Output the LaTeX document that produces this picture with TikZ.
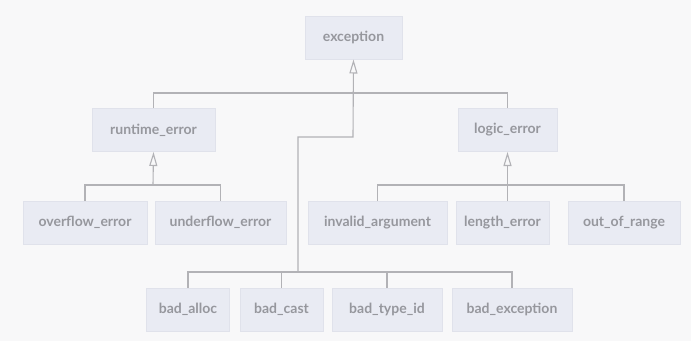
\documentclass[tikz,border=0pt]{standalone}
\usepackage{fontspec}
\setmainfont{Lato}
\usetikzlibrary{arrows.meta}
\definecolor{bgcol}{HTML}{F8F8F9}
\definecolor{boxcol}{HTML}{E9EBF3}
\definecolor{edgecol}{HTML}{E0E2EB}
\definecolor{txtcol}{HTML}{96979D}
\definecolor{linecol}{HTML}{B2B2B6}
\tikzset{
  cls/.style={draw=edgecol, fill=boxcol, text=txtcol, font=\fontsize{14}{16}\selectfont\bfseries,
    inner xsep=0pt, minimum height=43pt, line width=1pt},
  link/.style={draw=linecol, line width=1.1pt},
  inherit/.style={link, -{Triangle[open, length=14pt, width=8pt, fill=bgcol]}}
}
\begin{document}
\begin{tikzpicture}[x=1pt,y=-1pt]
\fill[bgcol] (0,0) rectangle (691,341);
\useasboundingbox (0,0) rectangle (691,341);
\node (exception)   at (353.5,37.5) [cls, minimum width=97pt] {exception};
%
\node (runtime)     at (153.5,130)  [cls, minimum width=123pt] {runtime\_error};
\node (logic)       at (507.5,130)  [cls, minimum width=99pt] {logic\_error};
%
\node (overflow)    at (85,222.5)   [cls, minimum width=124pt] {overflow\_error};
\node (underflow)   at (220.5,222.5) [cls, minimum width=131pt] {underflow\_error};
\node (invalid)     at (377.5,222.5) [cls, minimum width=139pt] {invalid\_argument};
\node (length)      at (502.5,222.5) [cls, minimum width=93pt] {length\_error};
\node (outofrange)  at (624,222.5)  [cls, minimum width=112pt] {out\_of\_range};
%
\node (badalloc)    at (188,309.5)  [cls, minimum width=83pt] {bad\_alloc};
\node (badcast)     at (281.5,309.5) [cls, minimum width=83pt] {bad\_cast};
\node (badtypeid)   at (387,309.5)  [cls, minimum width=110pt] {bad\_type\_id};
\node (badexception) at (512,309.5) [cls, minimum width=120pt] {bad\_exception};
%
\coordinate (jtop) at (353,93);
\coordinate (kink) at (353,137);
\coordinate (jbad) at (298,272);
\coordinate (jrt)  at (153,185);
\coordinate (jlg)  at (507.5,185);
%
\draw[link] (runtime.north) |- (jtop) -| (logic.north);
\draw[inherit] (jbad) |- (kink) -- (exception.south);
% bad_*
\draw[link] (badalloc.north) |- (jbad) -| (badexception.north);
\draw[link] (badcast.north) -- (badcast.north |- jbad);
\draw[link] (badtypeid.north) -- (badtypeid.north |- jbad);
% runtime_error
\draw[link] (overflow.north) |- (jrt) -| (underflow.north);
\draw[inherit] (jrt) -- (runtime.south);
% logic_error
\draw[link] (invalid.north) |- (jlg) -| (outofrange.north);
\draw[inherit] (length.north -| jlg) -- (logic.south);
\end{tikzpicture}
\end{document}
